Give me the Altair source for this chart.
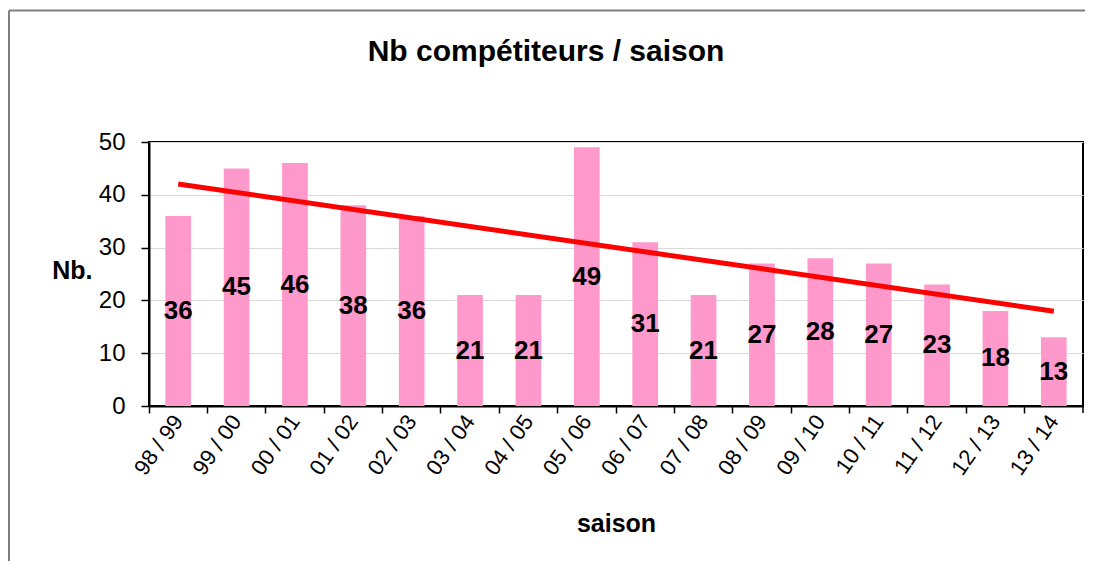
import altair as alt
import pandas as pd

seasons = ["98 / 99", "99 / 00", "00 / 01", "01 / 02", "02 / 03", "03 / 04", "04 / 05",
           "05 / 06", "06 / 07", "07 / 08", "08 / 09", "09 / 10", "10 / 11", "11 / 12",
           "12 / 13", "13 / 14"]
counts = [36, 45, 46, 38, 36, 21, 21, 49, 31, 21, 27, 28, 27, 23, 18, 13]

W, H = 934, 264
df = pd.DataFrame({"saison": seasons, "n": counts, "i": list(range(len(seasons)))})
FONT = "Liberation Sans"

xenc = alt.X("saison:N", sort=seasons, title="saison",
             scale=alt.Scale(paddingInner=0, paddingOuter=0),
             axis=alt.Axis(labelAngle=-55, labelFontSize=22, labelFont=FONT, labelColor="black",
                           bandPosition=0, labelPadding=4,
                           tickSize=7, tickColor="black", tickWidth=1.5,
                           domainColor="black", domainWidth=2,
                           titleFont=FONT, titleFontSize=25, titleFontWeight="bold", titleColor="black",
                           titleY=125, titleBaseline="alphabetic", grid=False))

base = alt.Chart(df)

bars = base.mark_bar(color="#FF99CC", width=alt.RelativeBandSize(0.44)).encode(
    x=xenc,
    y=alt.Y("n:Q", title="Nb.", scale=alt.Scale(domain=[0, 50]),
            axis=alt.Axis(values=[0, 10, 20, 30, 40, 50], labelFontSize=24, labelFont=FONT,
                          labelColor="black", labelPadding=16, tickSize=8, tickColor="black",
                          tickWidth=1.5, domainColor="black", domainWidth=2,
                          gridColor="#d9d9d9", gridWidth=1,
                          titleAngle=0, titleFont=FONT, titleFontSize=25, titleFontWeight="bold",
                          titleColor="black", titleX=-57, titleY=128, titleAlign="right",
                          titleBaseline="middle")),
)

labels = base.transform_calculate(mid="datum.n / 2").mark_text(
    font=FONT, fontSize=26, fontWeight="bold", color="black", baseline="middle"
).encode(
    x=alt.X("saison:N", sort=seasons),
    y=alt.Y("mid:Q"),
    text=alt.Text("n:Q"),
)

trend = base.transform_regression("i", "n", method="linear").transform_lookup(
    lookup="i", from_=alt.LookupData(data=df, key="i", fields=["saison"])
).mark_line(color="#FF0000", strokeWidth=5).encode(
    x=alt.X("saison:N", sort=seasons),
    y=alt.Y("n:Q"),
)

deco = pd.DataFrame({"k": [0]})
frame_left = alt.Chart(deco).mark_rule(color="#7f7f7f", strokeWidth=2).encode(
    x=alt.value(-140), y=alt.value(-131.5), y2=alt.value(500))
frame_top = alt.Chart(deco).mark_rule(color="#7f7f7f", strokeWidth=2).encode(
    x=alt.value(-140), x2=alt.value(1000), y=alt.value(-131.5))
last_tick = alt.Chart(deco).mark_rule(color="black", strokeWidth=1.5).encode(
    x=alt.value(W), y=alt.value(H), y2=alt.value(H + 7))

chart = alt.layer(bars, labels, trend, frame_left, frame_top, last_tick).properties(
    width=W, height=H,
    title=alt.TitleParams("Nb compétiteurs / saison", font=FONT, fontSize=30, fontWeight="bold",
                          color="black", anchor="middle", dx=-70, offset=-81, baseline="alphabetic"),
    autosize=alt.AutoSizeParams(type="none"),
    padding={"left": 141, "top": 134, "right": 2, "bottom": 155},
).configure(background="white").configure_view(stroke="black", strokeWidth=2)

chart.save("out.html", embed_options={"renderer": "svg", "actions": False})
